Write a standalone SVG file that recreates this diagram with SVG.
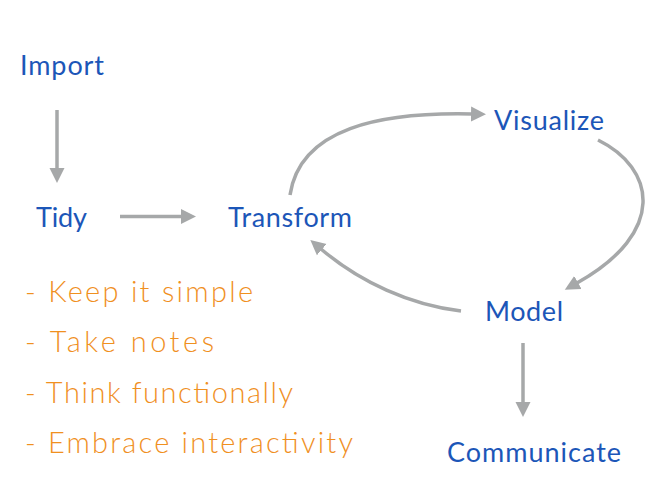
<svg xmlns="http://www.w3.org/2000/svg" width="667" height="500" viewBox="0 0 667 500">
<style>
.n{font-family:"Lato","Open Sans","Liberation Sans",sans-serif;font-size:27px;fill:#1c56b8;}
.t{font-family:"Lato","Liberation Sans",sans-serif;font-weight:300;font-size:29px;fill:#f0901f;}
.c{fill:none;stroke:#a6a8a9;stroke-width:3.5;}
</style>
<defs>
<marker id="ah" markerUnits="userSpaceOnUse" markerWidth="16" markerHeight="16" refX="1" refY="7.5" orient="auto" viewBox="0 0 16 15">
<path d="M0,0 L15,7.5 L0,15 z" fill="#a6a8a9"/>
</marker>
</defs>
<rect width="667" height="500" fill="#ffffff"/>
<g id="connectors">
<path class="c" d="M57,110 L57,169" marker-end="url(#ah)"/>
<path class="c" d="M120,216.5 L182,216.5" marker-end="url(#ah)"/>
<path class="c" d="M290,195 C300,128 380,112 472,114" marker-end="url(#ah)"/>
<path class="c" d="M598,140 C655,168 668,232 577,283" marker-end="url(#ah)"/>
<path class="c" d="M461,311 C410,305 360,282 321,249" marker-end="url(#ah)"/>
<path class="c" d="M523,343 L523,403" marker-end="url(#ah)"/>
</g>
<g id="import"><text class="n" x="20" y="75" textLength="84">Import</text></g>
<g id="tidy"><text class="n" x="36" y="227" textLength="51">Tidy</text></g>
<g id="transform"><text class="n" x="228" y="227" textLength="124">Transform</text></g>
<g id="visualize"><text class="n" x="494" y="130" textLength="110">Visualize</text></g>
<g id="model"><text class="n" x="485" y="321" textLength="78">Model</text></g>
<g id="communicate"><text class="n" x="447" y="462" textLength="174">Communicate</text></g>
<g id="notes">
<text class="t" x="25" y="302" textLength="228">- Keep it simple</text>
<text class="t" x="25" y="352" textLength="189">- Take notes</text>
<text class="t" x="25" y="403" textLength="268">- Think functionally</text>
<text class="t" x="25" y="453" textLength="328">- Embrace interactivity</text>
</g>
</svg>
